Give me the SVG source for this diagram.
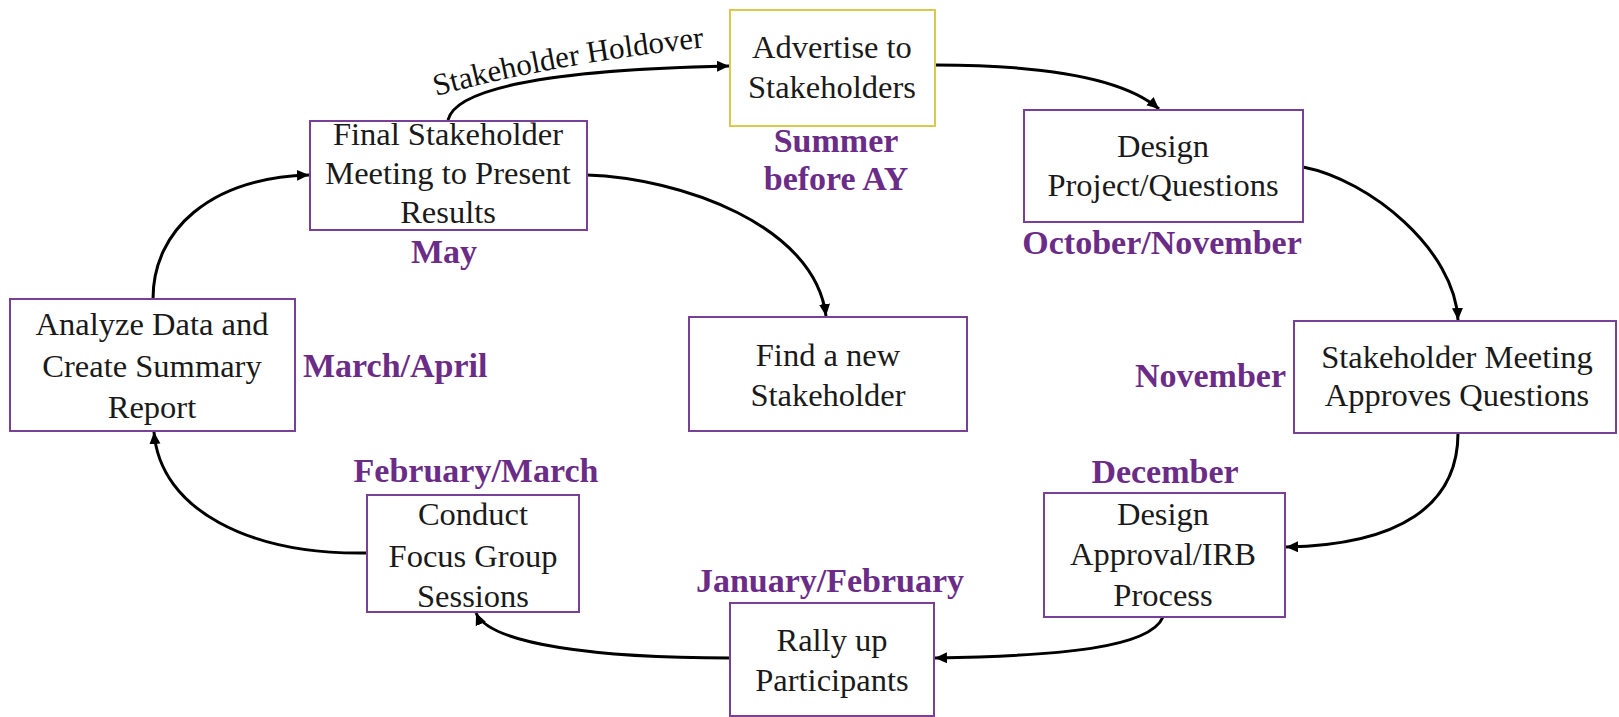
<svg xmlns="http://www.w3.org/2000/svg" width="1619" height="717" viewBox="0 0 1619 717">
<style>
.box{fill:#ffffff;stroke:#7a3f96;stroke-width:2}
.ybox{fill:#ffffff;stroke:#d9c94e;stroke-width:2}
.t{font-family:"Liberation Serif",serif;font-size:32.5px;fill:#1a1a1a;text-anchor:middle}
.lab{font-family:"Liberation Serif",serif;font-size:34px;font-weight:bold;fill:#6b2c88}
.c{fill:none;stroke:#000;stroke-width:3}
.hold{font-family:"Liberation Serif",serif;font-size:31px;fill:#111}
</style>
<defs>
<marker id="arr" markerUnits="userSpaceOnUse" markerWidth="14" markerHeight="12" refX="12" refY="5.5" orient="auto">
<path d="M0,0 L12,5.5 L0,11 Z" fill="#000"/>
</marker>
<path id="hp" d="M436,96 Q560,62 718,46"/>
</defs>
<rect width="1619" height="717" fill="#ffffff"/>
<g id="connectors">
<path class="c" d="M448,120 C455,90 540,70 729,66" marker-end="url(#arr)"/>
<path class="c" d="M935,65 C1030,65 1120,75 1159,109" marker-end="url(#arr)"/>
<path class="c" d="M1303,167 C1370,180 1455,250 1458,320" marker-end="url(#arr)"/>
<path class="c" d="M1458,433 C1458,505 1400,545 1286,547" marker-end="url(#arr)"/>
<path class="c" d="M1163,617 C1150,648 1060,656 935,658" marker-end="url(#arr)"/>
<path class="c" d="M730,658 C600,658 490,645 476,613" marker-end="url(#arr)"/>
<path class="c" d="M367,553 C250,555 160,510 154,432" marker-end="url(#arr)"/>
<path class="c" d="M153,299 C153,230 210,178 309,175" marker-end="url(#arr)"/>
<path class="c" d="M587,175 C680,178 815,225 826,316" marker-end="url(#arr)"/>
<text class="hold"><textPath href="#hp">Stakeholder Holdover</textPath></text>
</g>
<g id="advertise">
<rect class="ybox" x="730" y="10" width="205" height="116"/>
<text class="t" x="832" y="58">Advertise to</text>
<text class="t" x="832" y="98">Stakeholders</text>
<text class="lab" x="836" y="152" text-anchor="middle">Summer</text>
<text class="lab" x="836" y="190" text-anchor="middle">before AY</text>
</g>
<g id="final">
<rect class="box" x="310" y="121" width="277" height="109"/>
<text class="t" x="448" y="145">Final Stakeholder</text>
<text class="t" x="448" y="184">Meeting to Present</text>
<text class="t" x="448" y="223">Results</text>
<text class="lab" x="444" y="263" text-anchor="middle">May</text>
</g>
<g id="design">
<rect class="box" x="1024" y="110" width="279" height="112"/>
<text class="t" x="1163" y="157">Design</text>
<text class="t" x="1163" y="196">Project/Questions</text>
<text class="lab" x="1162" y="254" text-anchor="middle">October/November</text>
</g>
<g id="approves">
<rect class="box" x="1294" y="321" width="322" height="112"/>
<text class="t" x="1457" y="368">Stakeholder Meeting</text>
<text class="t" x="1457" y="406">Approves Questions</text>
<text class="lab" x="1286" y="387" text-anchor="end">November</text>
</g>
<g id="irb">
<rect class="box" x="1044" y="493" width="241" height="124"/>
<text class="t" x="1163" y="525">Design</text>
<text class="t" x="1163" y="565">Approval/IRB</text>
<text class="t" x="1163" y="606">Process</text>
<text class="lab" x="1165" y="483" text-anchor="middle">December</text>
</g>
<g id="rally">
<rect class="box" x="730" y="603" width="204" height="113"/>
<text class="t" x="832" y="651">Rally up</text>
<text class="t" x="832" y="691">Participants</text>
<text class="lab" x="830" y="592" text-anchor="middle">January/February</text>
</g>
<g id="focus">
<rect class="box" x="367" y="495" width="212" height="117"/>
<text class="t" x="473" y="525">Conduct</text>
<text class="t" x="473" y="567">Focus Group</text>
<text class="t" x="473" y="607">Sessions</text>
<text class="lab" x="476" y="482" text-anchor="middle">February/March</text>
</g>
<g id="analyze">
<rect class="box" x="10" y="299" width="285" height="132"/>
<text class="t" x="152" y="335">Analyze Data and</text>
<text class="t" x="152" y="377">Create Summary</text>
<text class="t" x="152" y="418">Report</text>
<text class="lab" x="303" y="377">March/April</text>
</g>
<g id="find">
<rect class="box" x="689" y="317" width="278" height="114"/>
<text class="t" x="828" y="366">Find a new</text>
<text class="t" x="828" y="406">Stakeholder</text>
</g>
</svg>
